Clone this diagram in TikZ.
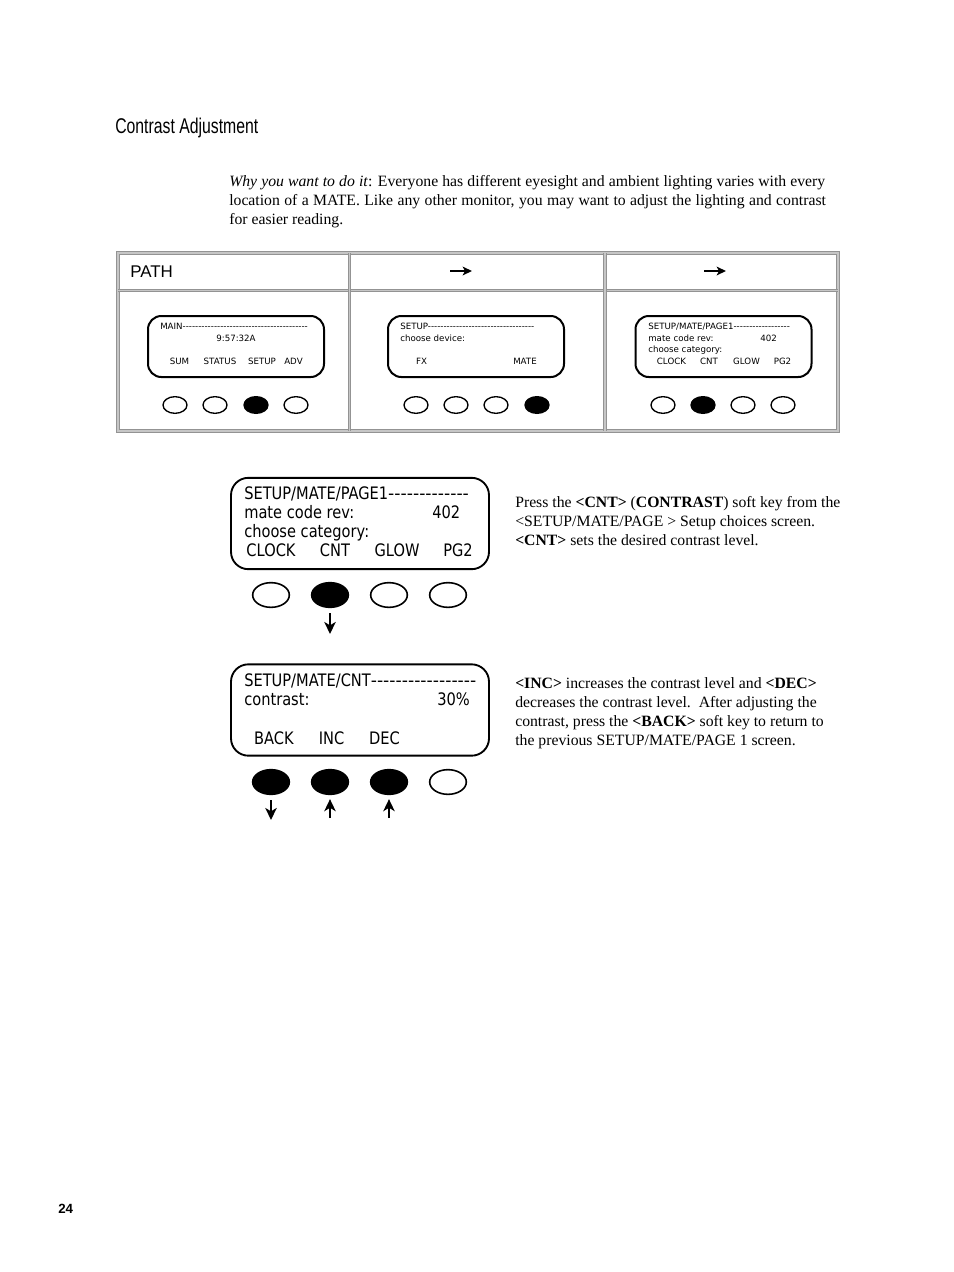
\documentclass[tikz,border=0pt]{standalone}
\usepackage{fontspec}
\setmainfont{Liberation Serif}
\newfontfamily\scrfont{DejaVu Sans}
\newfontfamily\scrnarrow[FakeStretch=0.85]{DejaVu Sans}
\newfontfamily\hdfont{Liberation Sans}
\usetikzlibrary{shapes.geometric,arrows.meta}
\begin{document}
\begin{tikzpicture}[x=0.75pt,y=-0.75pt,
  bigscr/.style={draw, line width=1.4pt, rounded corners=13pt, minimum width=193.5pt, minimum height=68.5pt, inner sep=0pt},
  smallscr/.style={draw, line width=1.5pt, rounded corners=10pt, minimum width=132pt, minimum height=45.75pt, inner sep=0pt},
  bigkey/.style={ellipse, draw, line width=1.2pt, minimum width=27.5pt, minimum height=18.5pt, inner sep=0pt},
  smallkey/.style={ellipse, draw, line width=1pt, minimum width=18pt, minimum height=12.5pt, inner sep=0pt},
  pressed/.style={fill=black},
  bigtxt/.style={font=\scrnarrow\fontsize{12.9}{15}\selectfont, inner sep=0pt},
  smalltxt/.style={font=\scrfont\fontsize{6.5}{8}\selectfont, inner sep=0pt},
  body/.style={font=\fontsize{11.8}{14}\selectfont, inner sep=0pt, anchor=base west},
  gridline/.style={draw=gray!85, double=gray!45, double distance=0.9pt, line width=0.7pt},
  hdrarrow/.style={line width=1.4pt, -{Stealth[length=7pt,width=6.5pt,inset=1.8pt]}},
  keyarrow/.style={line width=2pt, -{Stealth[length=9pt,width=8.5pt,inset=2.5pt]}},
]
\useasboundingbox[fill=white] (0,0) rectangle (954,1272);

% heading
\node[anchor=base west, inner sep=0pt, font=\hdfont\fontsize{16}{18}\selectfont] (title) at (115,133) {\scalebox{0.74}[1]{Contrast Adjustment}};

% intro paragraph
\node[body] (p1) at (229,186) {\makebox[447pt][s]{\textit{Why you want to do it}: Everyone has different eyesight and ambient lighting varies with every}};
\node[body] (p2) at (229,205) {\makebox[447.5pt][s]{location of a MATE. Like any other monitor, you may want to adjust the lighting and contrast}};
\node[body] (p3) at (229,224) {for easier reading.};

% path table
\draw[gridline] (118,253) rectangle (838,431);
\draw[gridline] (118,290.5) -- (838,290.5);
\draw[gridline] (349.5,253) -- (349.5,431);
\draw[gridline] (605,253) -- (605,431);
\node[anchor=base west, inner sep=0pt, font=\hdfont\fontsize{12.7}{15}\selectfont] (path) at (130,277) {PATH};
\coordinate (h1s) at (450,271); \coordinate (h1e) at (472,271);
\coordinate (h2s) at (704,271); \coordinate (h2e) at (726,271);
\draw[hdrarrow] (h1s) -- (h1e);
\draw[hdrarrow] (h2s) -- (h2e);

% small screen 1
\node[smallscr] (m1) at (236,346.5) {};
\node[smalltxt, anchor=base west] (m1a) at (160,329) {MAIN----------------------------------------};
\node[smalltxt, anchor=base] (m1b) at (236,341) {9:57:32A};
\node[smalltxt, anchor=base] (m1c) at (179.5,364) {SUM};
\node[smalltxt, anchor=base] (m1d) at (220,364) {STATUS};
\node[smalltxt, anchor=base] (m1e) at (262,364) {SETUP};
\node[smalltxt, anchor=base] (m1f) at (293.5,364) {ADV};
\node[smallkey] (k11) at (175,405) {};
\node[smallkey] (k12) at (215,405) {};
\node[smallkey, pressed] (k13) at (256,405) {};
\node[smallkey] (k14) at (296,405) {};

% small screen 2
\node[smallscr] (m2) at (476,346.5) {};
\node[smalltxt, anchor=base west] (m2a) at (400,329) {SETUP----------------------------------};
\node[smalltxt, anchor=base west] (m2b) at (400,341) {choose device:};
\node[smalltxt, anchor=base] (m2c) at (421.5,364) {FX};
\node[smalltxt, anchor=base] (m2d) at (525,364) {MATE};
\node[smallkey] (k21) at (416,405) {};
\node[smallkey] (k22) at (456,405) {};
\node[smallkey] (k23) at (496,405) {};
\node[smallkey, pressed] (k24) at (537,405) {};

% small screen 3
\node[smallscr] (m3) at (723.5,346.5) {};
\node[smalltxt, anchor=base west] (m3a) at (648,329) {SETUP/MATE/PAGE1------------------};
\node[smalltxt, anchor=base west] (m3b) at (648,341) {mate code rev:};
\node[smalltxt, anchor=base west] (m3c) at (760,341) {402};
\node[smalltxt, anchor=base west] (m3d) at (648,352) {choose category:};
\node[smalltxt, anchor=base] (m3e) at (671.5,364) {CLOCK};
\node[smalltxt, anchor=base] (m3f) at (709,364) {CNT};
\node[smalltxt, anchor=base] (m3g) at (746.5,364) {GLOW};
\node[smalltxt, anchor=base] (m3h) at (782.5,364) {PG2};
\node[smallkey] (k31) at (663,405) {};
\node[smallkey, pressed] (k32) at (703,405) {};
\node[smallkey] (k33) at (743,405) {};
\node[smallkey] (k34) at (783,405) {};

% large screen 1
\node[bigscr] (s1) at (360,523.5) {};
\node[bigtxt, anchor=base west] (s1a) at (244,499) {SETUP/MATE/PAGE1{\scrfont -------------}};
\node[bigtxt, anchor=base west] (s1b) at (244,518) {mate code rev:};
\node[bigtxt, anchor=base west] (s1c) at (432,518) {402};
\node[bigtxt, anchor=base west] (s1d) at (244,537) {choose category:};
\node[bigtxt, anchor=base] (s1e) at (271,556) {CLOCK};
\node[bigtxt, anchor=base] (s1f) at (335,556) {CNT};
\node[bigtxt, anchor=base] (s1g) at (397,556) {GLOW};
\node[bigtxt, anchor=base] (s1h) at (458,556) {PG2};
\node[bigkey] (b11) at (271,595) {};
\node[bigkey, pressed] (b12) at (330,595) {};
\node[bigkey] (b13) at (389,595) {};
\node[bigkey] (b14) at (448,595) {};
\coordinate (a1) at (330,634);
\draw[keyarrow, shorten <=4pt] (b12) -- (a1);

% right text 1
\node[body] (r1) at (515,507) {Press the \textbf{<CNT>} (\textbf{CONTRAST}) soft key from the};
\node[body] (r2) at (515,526) {<SETUP/MATE/PAGE > Setup choices screen.};
\node[body] (r3) at (515,545) {\textbf{<CNT>} sets the desired contrast level.};

% large screen 2
\node[bigscr] (s2) at (360,710) {};
\node[bigtxt, anchor=base west] (s2a) at (244,686) {SETUP/MATE/CNT{\scrfont -----------------}};
\node[bigtxt, anchor=base west] (s2b) at (244,705) {contrast:};
\node[bigtxt, anchor=base west] (s2c) at (437,705) {30\%};
\node[bigtxt, anchor=base] (s2d) at (274,744) {BACK};
\node[bigtxt, anchor=base] (s2e) at (331.5,744) {INC};
\node[bigtxt, anchor=base] (s2f) at (384.5,744) {DEC};
\node[bigkey, pressed] (b21) at (271,782) {};
\node[bigkey, pressed] (b22) at (330,782) {};
\node[bigkey, pressed] (b23) at (389,782) {};
\node[bigkey] (b24) at (448,782) {};
\coordinate (a2) at (271,820);
\coordinate (a3) at (330,818);
\coordinate (a4) at (389,818);
\draw[keyarrow, shorten <=4pt] (b21) -- (a2);
\draw[keyarrow, shorten >=3pt] (a3) -- (b22);
\draw[keyarrow, shorten >=3pt] (a4) -- (b23);

% right text 2
\node[body] (t1) at (515,688) {\textbf{<INC>} increases the contrast level and \textbf{<DEC>}};
\node[body] (t2) at (515,707) {decreases the contrast level.\ \ After adjusting the};
\node[body] (t3) at (515,726) {contrast, press the \textbf{<BACK>} soft key to return to};
\node[body] (t4) at (515,745) {the previous SETUP/MATE/PAGE 1 screen.};

% page number
\node[anchor=base west, inner sep=0pt, font=\hdfont\bfseries\fontsize{10}{12}\selectfont] (pg) at (58,1213) {24};
\end{tikzpicture}
\end{document}
